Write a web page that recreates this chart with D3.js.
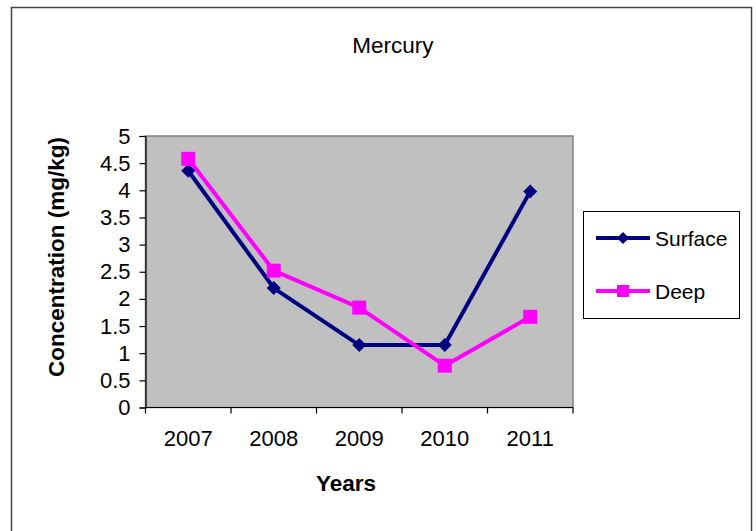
<!DOCTYPE html>
<html>
<head>
<meta charset="utf-8">
<script src="https://cdn.jsdelivr.net/npm/d3@7"></script>
<style>
  html, body { margin: 0; padding: 0; background: #fff; }
  svg { display: block; font-family: "Liberation Sans", Arial, sans-serif; }
</style>
</head>
<body>
<svg id="chart" width="756" height="531"></svg>
<script>
const years = ["2007", "2008", "2009", "2010", "2011"];
const surface = [4.36, 2.2, 1.15, 1.15, 3.98];
const deep = [4.58, 2.52, 1.84, 0.77, 1.67];
const yTicks = [0, 0.5, 1, 1.5, 2, 2.5, 3, 3.5, 4, 4.5, 5];
const seriesNames = ["Surface", "Deep"];
const seriesColors = ["#000080", "#ff00ff"];
const chartTitle = "Mercury";
const xTitle = "Years";
const yTitle = "Concentration (mg/kg)";

const svg = d3.select("#chart");
const plot = { left: 145.5, right: 573, top: 136, bottom: 407.5 };

// outer chart border
svg.append("rect")
  .attr("x", 11.5).attr("y", 7.5)
  .attr("width", 740).attr("height", 540)
  .attr("fill", "#fff")
  .attr("stroke", "#444").attr("stroke-width", 1.5);

const x = d3.scaleBand().domain(years).range([plot.left, plot.right]);
const y = d3.scaleLinear().domain([0, 5]).range([plot.bottom, plot.top]);

// plot area
svg.append("rect")
  .attr("x", plot.left).attr("y", plot.top)
  .attr("width", plot.right - plot.left).attr("height", plot.bottom - plot.top)
  .attr("fill", "#c0c0c0")
  .attr("stroke", "#808080").attr("stroke-width", 1.5);

// Y axis
const yAxis = d3.axisLeft(y).tickValues(yTicks).tickSize(6).tickPadding(9)
  .tickFormat(d => String(d));
const gy = svg.append("g").attr("transform", `translate(${plot.left},0)`).call(yAxis);
gy.select(".domain").attr("stroke", "#000").attr("stroke-width", 1.2);
gy.selectAll(".tick line").attr("stroke", "#000").attr("stroke-width", 1.2);
gy.selectAll(".tick text").attr("font-size", "22px").attr("fill", "#000")
  .attr("font-family", "'Liberation Sans', Arial, sans-serif");

// X axis: ticks between categories
const gx = svg.append("g").attr("transform", `translate(0,${plot.bottom})`);
gx.append("line")
  .attr("x1", plot.left).attr("x2", plot.right)
  .attr("stroke", "#000").attr("stroke-width", 1.2);
const boundaries = years.map(d => x(d)).concat([x(years[years.length - 1]) + x.bandwidth()]);
gx.selectAll("line.tk").data(boundaries).join("line").attr("class", "tk")
  .attr("x1", d => d).attr("x2", d => d).attr("y1", 0).attr("y2", 6)
  .attr("stroke", "#000").attr("stroke-width", 1.2);
gx.selectAll("text").data(years).join("text")
  .attr("x", d => x(d) + x.bandwidth() / 2)
  .attr("y", 38)
  .attr("text-anchor", "middle")
  .attr("font-size", "22px")
  .text(d => d);

// lines
const allSeries = [surface, deep];
const line = d3.line().x((d, i) => x(years[i]) + x.bandwidth() / 2).y(d => y(d));
allSeries.forEach((vals, s) => {
  svg.append("path").datum(vals)
    .attr("d", line)
    .attr("fill", "none")
    .attr("stroke", seriesColors[s])
    .attr("stroke-width", 4)
    .attr("stroke-linejoin", "round");
});

function diamond(g, cx, cy, r, color) {
  g.append("path")
    .attr("d", `M${cx},${cy - r}L${cx + r},${cy}L${cx},${cy + r}L${cx - r},${cy}Z`)
    .attr("fill", color);
}
function square(g, cx, cy, s, color) {
  g.append("rect").attr("x", cx - s / 2).attr("y", cy - s / 2)
    .attr("width", s).attr("height", s).attr("fill", color);
}

const mg = svg.append("g");
surface.forEach((v, i) => diamond(mg, x(years[i]) + x.bandwidth() / 2, y(v), 7, seriesColors[0]));
deep.forEach((v, i) => square(mg, x(years[i]) + x.bandwidth() / 2, y(v), 14, seriesColors[1]));

// title
svg.append("text").attr("x", 393).attr("y", 53)
  .attr("text-anchor", "middle").attr("font-size", "22.5px").text(chartTitle);

// axis titles
svg.append("text").attr("x", 346).attr("y", 491)
  .attr("text-anchor", "middle").attr("font-size", "22.5px").attr("font-weight", "bold")
  .text(xTitle);
svg.append("text")
  .attr("transform", "translate(64,257) rotate(-90)")
  .attr("text-anchor", "middle").attr("font-size", "22.5px").attr("font-weight", "bold")
  .text(yTitle);

// legend
const lg = svg.append("g");
lg.append("rect").attr("x", 583.5).attr("y", 211.5).attr("width", 156).attr("height", 107)
  .attr("fill", "#fff").attr("stroke", "#000").attr("stroke-width", 1);
const legY = [238, 291];
seriesNames.forEach((name, s) => {
  lg.append("line").attr("x1", 596).attr("x2", 650).attr("y1", legY[s]).attr("y2", legY[s])
    .attr("stroke", seriesColors[s]).attr("stroke-width", 4);
  if (s === 0) diamond(lg, 623, legY[s], 6, seriesColors[s]);
  else square(lg, 623, legY[s], 12, seriesColors[s]);
  lg.append("text").attr("x", 655).attr("y", legY[s] + 7.5)
    .attr("font-size", "21px").text(name);
});
</script>
</body>
</html>
